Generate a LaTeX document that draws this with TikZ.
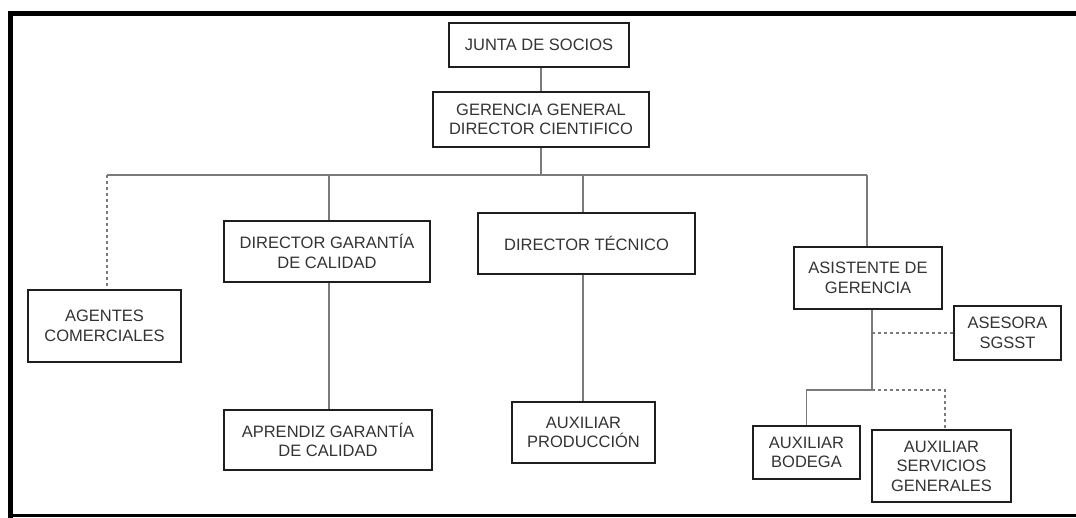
\documentclass[tikz,border=0pt]{standalone}
\usepackage{fontspec}
\setmainfont{Liberation Sans}
\definecolor{txtgrey}{HTML}{333333}
\definecolor{boxline}{HTML}{1E1E1E}
\definecolor{connline}{HTML}{7A7A7A}
\begin{document}
\begin{tikzpicture}[x=1pt,y=-1pt,
  orgbox/.style={draw=boxline,line width=2.6pt,align=center,inner sep=0pt,
    text=txtgrey,font=\fontsize{16.5}{19.5}\selectfont},
  conn/.style={draw=connline,line width=1.5pt},
  dconn/.style={draw=connline,line width=1.5pt,dash pattern=on 3pt off 3pt}]
\useasboundingbox (0,0) rectangle (1076,517);
% frame
\draw[line width=5pt,line cap=rect] (1076,13) -- (10.5,13) -- (10.5,517);
\draw[line width=2.5pt] (10,515.5) -- (1076,515.5);
% nodes
\node[orgbox,minimum width=180pt,minimum height=44pt] (junta) at (539,45) {JUNTA DE SOCIOS};
\node[orgbox,minimum width=216pt,minimum height=55pt] (ger) at (541,119.5) {GERENCIA GENERAL\\DIRECTOR CIENTIFICO};
\node[orgbox,minimum width=153pt,minimum height=72pt] (agentes) at (104.5,326) {AGENTES\\COMERCIALES};
\node[orgbox,minimum width=206pt,minimum height=61pt] (dgc) at (327,251.5) {DIRECTOR GARANTÍA\\DE CALIDAD};
\node[orgbox,minimum width=208pt,minimum height=60pt] (aprendiz) at (328,440) {APRENDIZ GARANTÍA\\DE CALIDAD};
\node[orgbox,minimum width=217pt,minimum height=61pt] (dtec) at (586.5,243.5) {DIRECTOR TÉCNICO};
\node[orgbox,minimum width=143pt,minimum height=61pt] (auxprod) at (583.5,432.5) {AUXILIAR\\PRODUCCIÓN};
\node[orgbox,minimum width=148pt,minimum height=62pt] (asis) at (868,278) {ASISTENTE DE\\GERENCIA};
\node[orgbox,minimum width=107pt,minimum height=54pt] (asesora) at (1007.5,333) {ASESORA\\SGSST};
\node[orgbox,minimum width=107pt,minimum height=53pt] (bodega) at (806.5,452.5) {AUXILIAR\\BODEGA};
\node[orgbox,minimum width=139pt,minimum height=72pt] (servicios) at (941.5,466) {AUXILIAR\\SERVICIOS\\GENERALES};
% coordinates
\coordinate (busL) at (107,175);
\coordinate (busR) at (867,175);
\coordinate (t1) at (583,175);
\coordinate (g1) at (329,175);
\coordinate (j1) at (872,333);
\coordinate (j2) at (872,390);
\coordinate (s1) at (945,390);
% connectors
\draw[conn] (ger.north) -- (ger.north |- junta.south);
\draw[conn] (ger.south) -- (ger.south |- busL);
\draw[conn] (busL) -- (busR);
\draw[dconn] (busL) -- (busL |- agentes.north);
\draw[conn] (g1) -- (g1 |- dgc.north);
\draw[conn] (g1 |- dgc.south) -- (g1 |- aprendiz.north);
\draw[conn] (t1) -- (t1 |- dtec.north);
\draw[conn] (t1 |- dtec.south) -- (t1 |- auxprod.north);
\draw[conn] (busR) -- (busR |- asis.north);
\draw[conn] (j1 |- asis.south) -- (j2);
\draw[dconn] (j1) -- (j1 -| asesora.west);
\draw[conn] (j2) -| (bodega.north);
\draw[dconn] (j2) -- (s1) -- (s1 |- servicios.north);
\end{tikzpicture}
\end{document}
